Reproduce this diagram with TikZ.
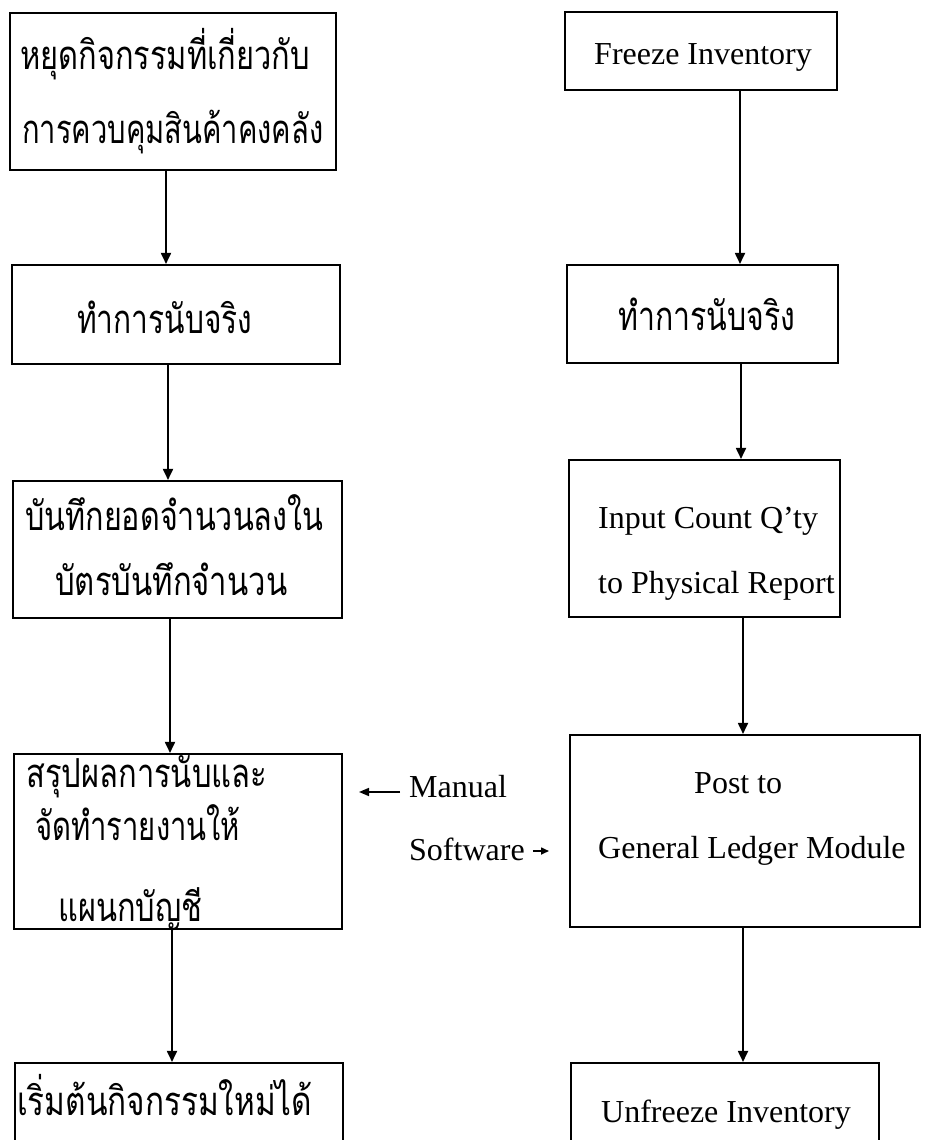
\documentclass[tikz,border=0pt]{standalone}
\usepackage{fontspec}
\usepackage{graphicx}
\setmainfont{Liberation Serif}
\newfontfamily\thaifont[Script=Thai]{Loma}
\usetikzlibrary{arrows.meta,calc}

% one Thai line, stretched to a given width, placed by its baseline start
\newcommand\thl[4]{\node[thtext] (#1) at (#2) {\resizebox{#3}{\height}{#4}};}

\tikzset{
  stepbox/.style={draw=black, line width=2.1pt, fill=none, inner sep=0pt},
  flow/.style={draw=black, line width=1.8pt, -{Triangle[length=11pt,width=10pt]}},
  side/.style={draw=black, line width=1.6pt, -{Triangle[length=10pt,width=8pt]}},
  thtext/.style={anchor=base west, inner sep=0pt, font=\thaifont\fontsize{40pt}{44pt}\selectfont},
  entext/.style={anchor=base west, inner sep=0pt, font=\fontsize{32pt}{35pt}\selectfont},
}

\begin{document}
\begin{tikzpicture}[x=1pt,y=-1pt]
\useasboundingbox (0,0) rectangle (926,1140);
\clip (0,0) rectangle (926,1140);

% ---------- left column: manual procedure ----------
\node[stepbox, minimum width=326pt, minimum height=157pt] (b1) at (173,91.5) {};
\node[stepbox, minimum width=328pt, minimum height=99pt]  (b2) at (176,314.5) {};
\node[stepbox, minimum width=329pt, minimum height=137pt] (b3) at (177.5,549.5) {};
\node[stepbox, minimum width=328pt, minimum height=175pt] (b4) at (178,841.5) {};
\node[stepbox, minimum width=328pt, minimum height=97pt]  (b5) at (179,1111.5) {};

\thl{b1a}{20,70}{290pt}{หยุดกิจกรรมที่เกี่ยวกับ}
\thl{b1b}{22,143}{301pt}{การควบคุมสินค้าคงคลัง}
\thl{b2a}{77,333}{175pt}{ทำการนับจริง}
\thl{b3a}{25,530}{298pt}{บันทึกยอดจำนวนลงใน}
\thl{b3b}{55,595}{232pt}{บัตรบันทึกจำนวน}
\thl{b4a}{26,787}{241pt}{สรุปผลการนับและ}
\thl{b4b}{35,840}{205pt}{จัดทำรายงานให้}
\thl{b4c}{58,921}{144pt}{แผนกบัญชี}
\thl{b5a}{17,1115}{295pt}{เริ่มต้นกิจกรรมใหม่ได้}

\draw[flow] (b1.south -| 166,0) -- (b2.north -| 166,0);
\draw[flow] (b2.south -| 168,0) -- (b3.north -| 168,0);
\draw[flow] (b3.south -| 170,0) -- (b4.north -| 170,0);
\draw[flow] (b4.south -| 172,0) -- (b5.north -| 172,0);

% ---------- right column: software procedure ----------
\node[stepbox, minimum width=272pt, minimum height=78pt]  (r1) at (701,51) {};
\node[stepbox, minimum width=271pt, minimum height=98pt]  (r2) at (702.5,314) {};
\node[stepbox, minimum width=271pt, minimum height=157pt] (r3) at (704.5,538.5) {};
\node[stepbox, minimum width=350pt, minimum height=192pt] (r4) at (745,831) {};
\node[stepbox, minimum width=308pt, minimum height=97pt]  (r5) at (725,1111.5) {};

\node[entext] (r1a) at (594,65) {Freeze Inventory};
\thl{r2a}{618,330}{177pt}{ทำการนับจริง}
\node[entext] (r3a) at (598,528) {Input Count Q’ty};
\node[entext] (r3b) at (598,593) {to Physical Report};
\node[entext] (r4a) at (694,793) {Post to};
\node[entext] (r4b) at (598,858) {General Ledger Module};
\node[entext] (r5a) at (601,1122) {Unfreeze Inventory};

\draw[flow] (r1.south -| 740,0) -- (r2.north -| 740,0);
\draw[flow] (r2.south -| 741,0) -- (r3.north -| 741,0);
\draw[flow] (r3.south -| 743,0) -- (r4.north -| 743,0);
\draw[flow] (r4.south -| 743,0) -- (r5.north -| 743,0);

% ---------- labels between the columns ----------
\node[entext] (man) at (409,797) {Manual};
\node[entext] (sw)  at (409,860) {Software};
\coordinate (mtip) at (359,792);
\coordinate (stip) at (549,851);
\draw[side] ($(man.base west)+(-9,-5)$) -- (mtip);
\draw[side, -{Triangle[length=8pt,width=7pt]}] ($(sw.base east)+(8,-9)$) -- (stip);
\end{tikzpicture}
\end{document}
